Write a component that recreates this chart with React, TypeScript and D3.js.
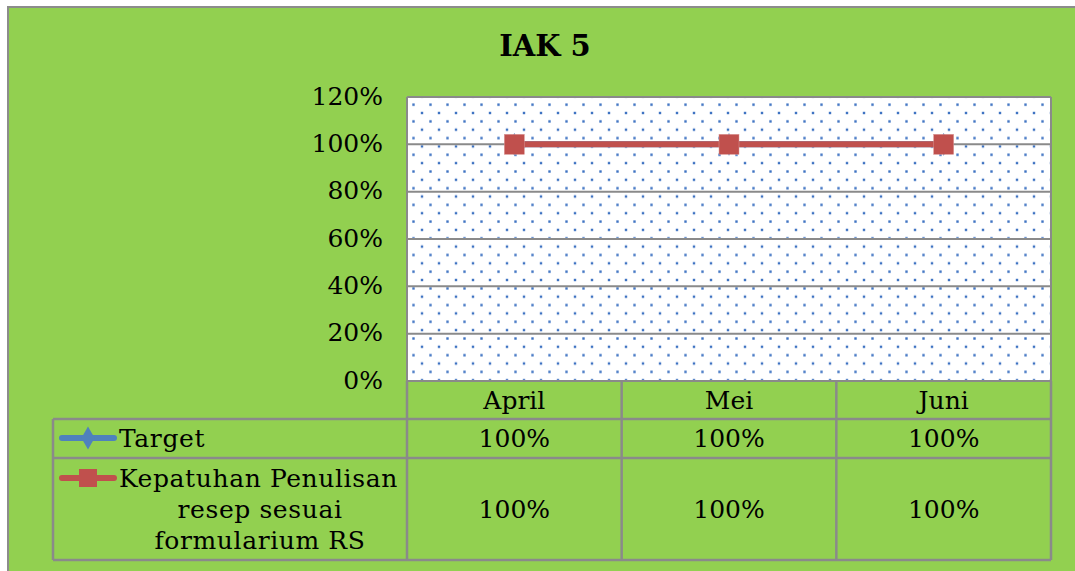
import React from "react";
import * as d3 from "d3";

const categories = ["April", "Mei", "Juni"];
const targetValues = [1, 1, 1];
const kepatuhanValues = [1, 1, 1];
const yTicks = [0, 0.2, 0.4, 0.6, 0.8, 1.0, 1.2];
const seriesNames = ["Target", "Kepatuhan Penulisan resep sesuai formularium RS"];
const kepatuhanLabelLines = ["Kepatuhan Penulisan", "resep sesuai", "formularium RS"];

const W = 1075;
const H = 571;
const plot = { left: 407, right: 1051, top: 97, bottom: 381 };
const tableLeft = 53;
const rowBottoms = [419, 458, 560];
const font = "'DejaVu Serif', 'Liberation Serif', serif";
const green = "#92d050";
const gridGray = "#8a8a8a";
const blue = "#4f81bd";
const dotBlue = "#3d72c2";
const red = "#c0504d";
const fs = 25;

const App = () => {
  const x = d3.scaleBand().domain(categories).range([plot.left, plot.right]);
  const y = d3.scaleLinear().domain([0, 1.2]).range([plot.bottom, plot.top]);
  const fmt = d3.format(".0%");
  const cx = (c: string) => x(c)! + x.bandwidth() / 2;

  const line = d3
    .line<number>()
    .x((_, i) => cx(categories[i]))
    .y((d) => y(d));

  const colEdges = categories.map((c) => x(c)!).concat([plot.right]);
  const diamond = d3.symbol(d3.symbolDiamond, 150)()!;

  return (
    <svg
      width={W}
      height={H}
      style={{ position: "absolute", left: 0, top: 0, display: "block" }}
      fontFamily={font}
    >
      <defs>
        <pattern id="dots" patternUnits="userSpaceOnUse" x={3} y={2} width={17} height={16.7}>
          <rect width={17} height={16.7} fill="#ffffff" />
          <rect x={1.3} y={1.3} width={2.4} height={2.4} fill={dotBlue} />
          <rect x={9.8} y={9.6} width={2.4} height={2.4} fill={dotBlue} />
        </pattern>
      </defs>
      <rect width={W} height={H} fill="#ffffff" />
      <rect x={8} y={7} width={W} height={H} fill={green} stroke="#8c8c8c" strokeWidth={2} />

      <text x={545} y={56} textAnchor="middle" fontSize={29} fontWeight="bold" fill="#000">
        IAK 5
      </text>

      {/* plot area */}
      <rect
        x={plot.left}
        y={plot.top}
        width={plot.right - plot.left}
        height={plot.bottom - plot.top}
        fill="url(#dots)"
      />
      {yTicks.map((t) => (
        <g key={t}>
          <line x1={plot.left} x2={plot.right} y1={y(t)} y2={y(t)} stroke={gridGray} strokeWidth={2} />
          <text x={383} y={y(t)} dy="0.3em" textAnchor="end" fontSize={fs} fill="#000">
            {fmt(t)}
          </text>
        </g>
      ))}
      <line x1={plot.left} x2={plot.left} y1={plot.top} y2={plot.bottom} stroke={gridGray} strokeWidth={2} />
      <line x1={plot.right} x2={plot.right} y1={plot.top} y2={plot.bottom} stroke={gridGray} strokeWidth={2} />

      {/* data table */}
      <g stroke={gridGray} strokeWidth={2.5} fill="none">
        {rowBottoms.map((rb) => (
          <line key={rb} x1={tableLeft} x2={plot.right} y1={rb} y2={rb} />
        ))}
        <line x1={tableLeft} x2={tableLeft} y1={rowBottoms[0]} y2={rowBottoms[2]} />
        {colEdges.map((e, i) => (
          <line key={i} x1={e} x2={e} y1={plot.bottom} y2={rowBottoms[2]} />
        ))}
      </g>
      {categories.map((c, i) => (
        <g key={c} fontSize={fs} fill="#000" textAnchor="middle">
          <text x={cx(c)} y={400} dy="0.35em">
            {c}
          </text>
          <text x={cx(c)} y={438} dy="0.35em">
            {fmt(targetValues[i])}
          </text>
          <text x={cx(c)} y={509} dy="0.35em">
            {fmt(kepatuhanValues[i])}
          </text>
        </g>
      ))}

      {/* legend keys */}
      <g>
        <line x1={62} x2={114} y1={438} y2={438} stroke={blue} strokeWidth={6} strokeLinecap="round" />
        <path d={diamond} transform="translate(88,438)" fill={blue} />
        <text x={119} y={438} dy="0.35em" fontSize={fs} fill="#000" letterSpacing={0.6}>
          {seriesNames[0]}
        </text>
        <line x1={62} x2={114} y1={478} y2={478} stroke={red} strokeWidth={6} strokeLinecap="round" />
        <rect x={79} y={469} width={18} height={18} fill={red} />
        {kepatuhanLabelLines.map((l, i) => (
          <text
            key={l}
            x={i === 0 ? 119 : 260}
            y={478 + i * 31}
            dy="0.35em"
            fontSize={fs}
            fill="#000"
            letterSpacing={0.6}
            textAnchor={i === 0 ? "start" : "middle"}
          >
            {l}
          </text>
        ))}
      </g>

      {/* series */}
      <path d={line(targetValues)!} fill="none" stroke={blue} strokeWidth={6} />
      {targetValues.map((v, i) => (
        <path key={i} d={diamond} transform={`translate(${cx(categories[i])},${y(v)})`} fill={blue} />
      ))}
      <path d={line(kepatuhanValues)!} fill="none" stroke={red} strokeWidth={6} />
      {kepatuhanValues.map((v, i) => (
        <rect
          key={i}
          x={cx(categories[i]) - 10}
          y={y(v) - 10}
          width={20}
          height={20}
          fill={red}
          stroke="#d99694"
          strokeWidth={0.5}
        />
      ))}
    </svg>
  );
};

export default App;
